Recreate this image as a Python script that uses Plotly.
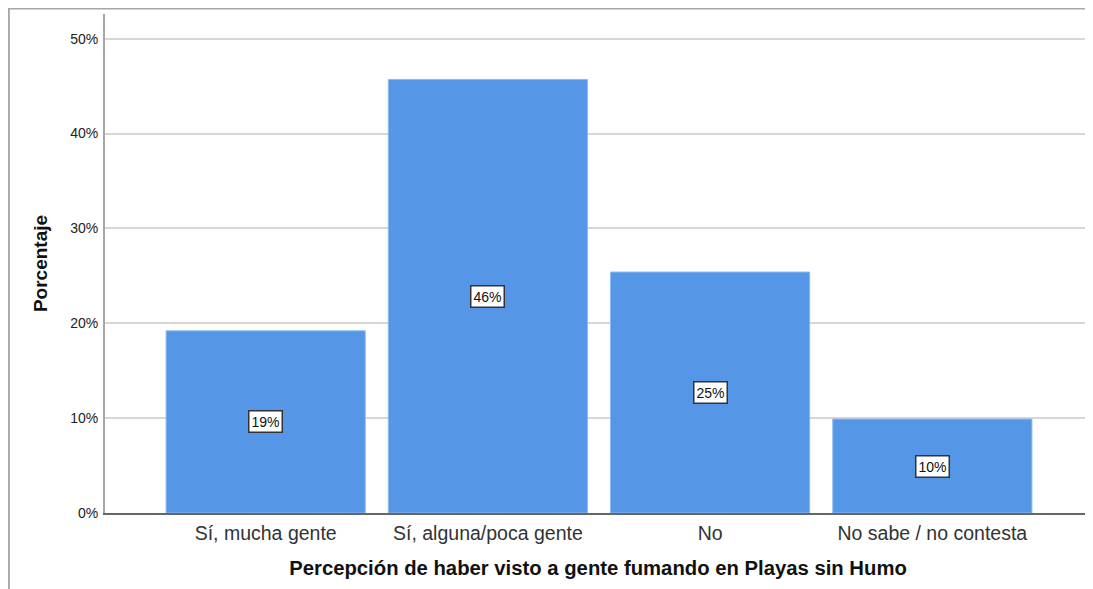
import plotly.graph_objects as go

categories = ["Sí, mucha gente", "Sí, alguna/poca gente", "No", "No sabe / no contesta"]
values = [19.2, 45.7, 25.4, 9.9]
labels = ["19%", "46%", "25%", "10%"]
y_ticks = [0, 10, 20, 30, 40, 50]
y_ticklabels = ["0%", "10%", "20%", "30%", "40%", "50%"]

FONT = "Liberation Sans, Arial, sans-serif"

fig = go.Figure()
fig.add_trace(go.Bar(
    x=categories, y=values, width=0.896,
    marker=dict(color="#5596e6", line=dict(color="#8ab8ee", width=1)),
    hoverinfo="skip",
))

for c, v, t in zip(categories, values, labels):
    fig.add_annotation(
        x=c, y=v / 2, text=t, showarrow=False,
        font=dict(family=FONT, size=14, color="#111111"),
        bgcolor="white", bordercolor="#333333", borderwidth=1.5, borderpad=2,
    )

fig.add_shape(type="rect", xref="paper", yref="paper",
              x0=-0.0975, x1=1.02, y0=-0.25, y1=1.011,
              line=dict(color="#a8a8a8", width=2), fillcolor="rgba(0,0,0,0)", layer="below")

fig.update_layout(
    width=1085, height=581,
    margin=dict(l=97, r=2, t=6, b=76),
    paper_bgcolor="white", plot_bgcolor="white",
    showlegend=False,
    font=dict(family=FONT, color="#222222"),
    xaxis=dict(
        range=[-0.723, 3.714],
        showline=True, linecolor="#666666", linewidth=1.5,
        showgrid=False, ticks="", tickfont=dict(size=19.5, color="#333333"),
        ticklabelstandoff=2,
        title=dict(text="<b>Percepción de haber visto a gente fumando en Playas sin Humo</b>",
                   font=dict(size=20.3, color="#111111"), standoff=18),
    ),
    yaxis=dict(
        range=[0, 52.6],
        tickvals=y_ticks, ticktext=y_ticklabels,
        showline=True, linecolor="#a6a6a6", linewidth=2,
        showgrid=True, gridcolor="#d6d6d6", gridwidth=1.5,
        zeroline=False, ticks="", tickfont=dict(size=14, color="#222222"),
        ticklabelstandoff=2,
        title=dict(text="<b>Porcentaje</b>", font=dict(size=19, color="#111111"), standoff=18),
    ),
)

fig.write_html("out.html")
